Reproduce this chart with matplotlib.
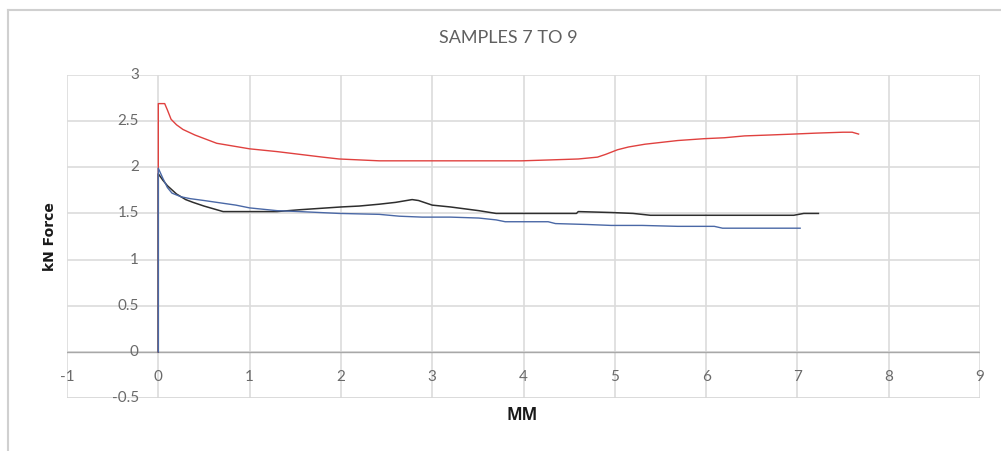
import numpy as np
import matplotlib
matplotlib.use("Agg")
import matplotlib.pyplot as plt
from matplotlib.lines import Line2D

# sample 7 (red)
red_x = [0, 0, 0.07, 0.1, 0.14, 0.2, 0.27, 0.4, 0.64, 1.0, 1.3, 1.55, 1.8, 1.98, 2.2,
         2.42, 3.0, 3.5, 3.98, 4.3, 4.6, 4.81, 4.9, 5.03, 5.15, 5.33, 5.69, 5.98, 6.2,
         6.42, 6.7, 6.96, 7.2, 7.5, 7.6, 7.67]
red_y = [0, 2.69, 2.69, 2.62, 2.52, 2.46, 2.41, 2.35, 2.26, 2.2, 2.17, 2.14, 2.11, 2.09, 2.08,
         2.07, 2.07, 2.07, 2.07, 2.08, 2.09, 2.11, 2.14, 2.19, 2.22, 2.25, 2.29, 2.31, 2.32,
         2.34, 2.35, 2.36, 2.37, 2.38, 2.38, 2.36]

# sample 8 (black)
black_x = [0, 0, 0.05, 0.1, 0.2, 0.3, 0.38, 0.5, 0.71, 1.0, 1.3, 1.55, 1.7, 2.0, 2.2, 2.42,
           2.6, 2.78, 2.85, 3.0, 3.2, 3.51, 3.7, 3.98, 4.3, 4.58, 4.6, 4.96, 5.2, 5.39,
           5.98, 6.5, 6.96, 7.07, 7.23]
black_y = [0, 1.93, 1.86, 1.8, 1.71, 1.65, 1.62, 1.58, 1.52, 1.52, 1.52, 1.54, 1.55, 1.57, 1.58, 1.6,
           1.62, 1.65, 1.64, 1.59, 1.57, 1.53, 1.5, 1.5, 1.5, 1.5, 1.52, 1.51, 1.5, 1.48,
           1.48, 1.48, 1.48, 1.5, 1.5]

# sample 9 (blue)
blue_x = [0, 0, 0.05, 0.1, 0.15, 0.25, 0.35, 0.5, 0.64, 0.85, 1.0, 1.3, 1.55, 1.98, 2.42,
          2.64, 2.89, 3.2, 3.51, 3.7, 3.8, 4.27, 4.35, 4.7, 4.96, 5.3, 5.69, 6.09, 6.18,
          6.6, 7.03]
blue_y = [0, 1.99, 1.88, 1.78, 1.72, 1.68, 1.66, 1.64, 1.62, 1.59, 1.56, 1.53, 1.52, 1.5, 1.49,
          1.47, 1.46, 1.46, 1.45, 1.43, 1.41, 1.41, 1.39, 1.38, 1.37, 1.37, 1.36, 1.36, 1.34,
          1.34, 1.34]

x_ticks = [-1, 0, 1, 2, 3, 4, 5, 6, 7, 8, 9]
y_ticks = [-0.5, 0, 0.5, 1, 1.5, 2, 2.5, 3]

label_font = ['Lato', 'DejaVu Sans']

fig = plt.figure(figsize=(10.01, 4.51), dpi=100)
ax = fig.add_axes([67 / 1001, 1 - 398 / 451, (980 - 67) / 1001, (398 - 75) / 451])

ax.set_xlim(-1, 9)
ax.set_ylim(-0.5, 3)
ax.set_xticks(x_ticks)
ax.set_yticks(y_ticks)
ax.tick_params(length=0, labelbottom=False, labelleft=False)
for s in ax.spines.values():
    s.set_visible(False)
ax.grid(True, color='#dcdcdc', linewidth=1.2)
ax.set_axisbelow(True)
ax.axhline(0, color='#a8a8a8', linewidth=1.0, zorder=1)
ax.axhline(-0.5, color='#c4c4c4', linewidth=1.0, zorder=1)

ax.plot(red_x, red_y, color='#e0413f', linewidth=1.0, zorder=3)
ax.plot(black_x, black_y, color='#2e2e2e', linewidth=1.1, zorder=4)
ax.plot(blue_x, blue_y, color='#4a68a6', linewidth=1.0, zorder=5)

# tick labels sit next to the axes crossing at zero (Excel style)
for v in y_ticks:
    ax.annotate(f'{v:g}', (0, v), xytext=(-14, 0), textcoords='offset points',
                ha='right', va='center', fontsize=11, color='#6a6a6a', family=label_font)
for v in x_ticks:
    ax.annotate(f'{v:g}', (v, 0), xytext=(0, -18), textcoords='offset points',
                ha='center', va='center', fontsize=11, color='#6a6a6a', family=label_font)

fig.text(508 / 1001, 1 - 38 / 451, 'SAMPLES 7 TO 9', ha='center', va='center',
         fontsize=13, color='#606060', family=label_font)
fig.text(522 / 1001, 1 - 415 / 451, 'MM', ha='center', va='center',
         fontsize=12, fontweight='bold', color='#1a1a1a', family=['Open Sans', 'DejaVu Sans'])
fig.text(50 / 1001, 1 - 237 / 451, 'kN Force', ha='center', va='center', rotation=90,
         fontsize=10, fontweight='bold', color='#1a1a1a')

# outer chart border
fig.add_artist(Line2D([8 / 1001, 1], [1 - 9.5 / 451, 1 - 9.5 / 451], color='#d0d0d0', linewidth=1.5))
fig.add_artist(Line2D([8 / 1001, 8 / 1001], [0, 1 - 9.5 / 451], color='#d0d0d0', linewidth=1.5))

fig.savefig('out.png', dpi=100)
